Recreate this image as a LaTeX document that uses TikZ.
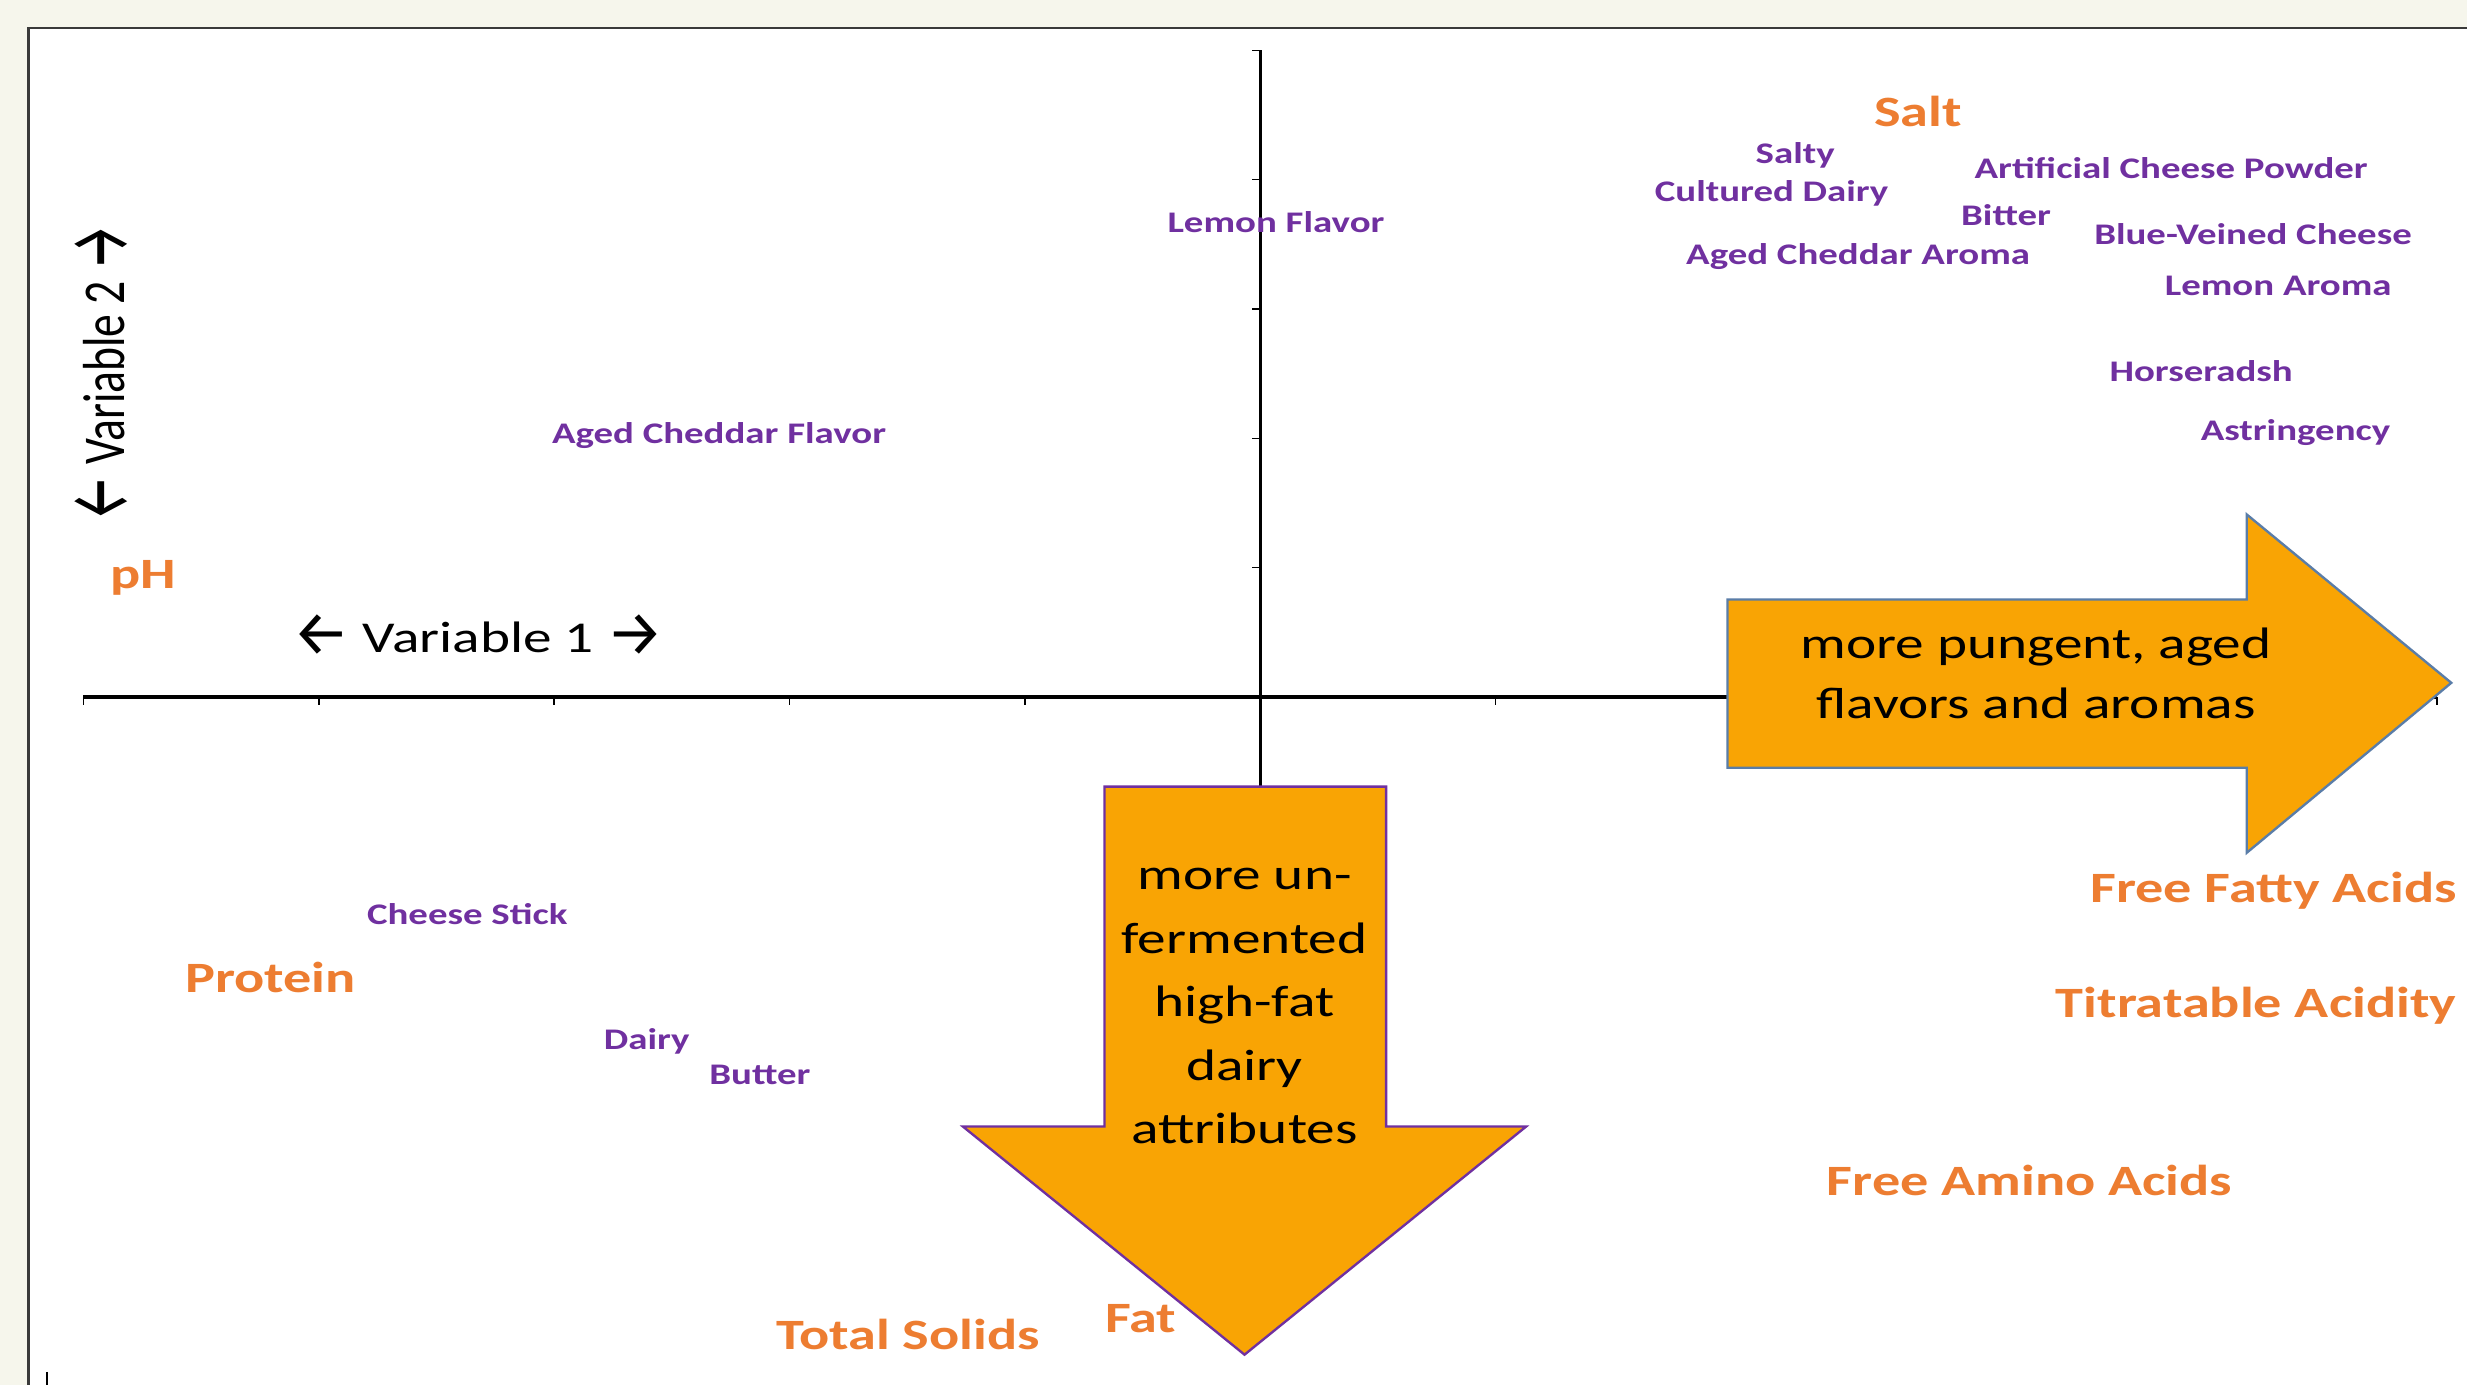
\documentclass[tikz,border=0pt]{standalone}
\usepackage{fontspec}
\setmainfont{Carlito}
\newfontfamily\arrowfont{Fira Sans}
\definecolor{lblpurple}{HTML}{7030A0}
\definecolor{lblorange}{HTML}{ED7D31}
\definecolor{arrfill}{HTML}{F9A404}
\definecolor{arrblue}{HTML}{5A7DA8}
\definecolor{framecol}{HTML}{3A3A3A}
\definecolor{bgcol}{HTML}{F6F6EC}
\newcommand\wide[1]{\scalebox{1.3}[1]{#1}}
\newcommand\tall[1]{\scalebox{1}[1.3]{#1}}
\newcommand\larr{\raisebox{-0.08em}{\scalebox{1.12}[1.45]{\arrowfont ←}}}
\newcommand\rarr{\raisebox{-0.08em}{\scalebox{1.12}[1.45]{\arrowfont →}}}
\begin{document}
\begin{tikzpicture}[x=1pt,y=-1pt,
  purp/.style={text=lblpurple,font=\fontsize{19}{22}\selectfont\bfseries,inner sep=0pt},
  oran/.style={text=lblorange,font=\fontsize{27.5}{32}\selectfont\bfseries,inner sep=0pt},
  axlabel/.style={text=black,font=\fontsize{28}{32}\selectfont,inner sep=0pt},
  arrtext/.style={text=black,align=center,inner sep=0pt},
  axisline/.style={black,line width=2pt},
  tickline/.style={black,line width=1pt},
  downarr/.style={fill=arrfill,draw=lblpurple,line width=1.5pt,line join=miter},
  rightarr/.style={fill=arrfill,draw=arrblue,line width=1.5pt,line join=miter}]
\useasboundingbox (0,0) rectangle (1568,880);
\fill[bgcol] (0,0) rectangle (1568,880);
\fill[white] (18,18) rectangle (1568,880);
\draw[framecol,line width=1.5pt] (18,880) -- (18,18) -- (1568,18);
\draw[tickline] (30,872) -- (30,880);
% axes
\coordinate (xl) at (53,443);
\coordinate (xr) at (1549,443);
\coordinate (yt) at (801,32);
\coordinate (yb) at (801,500);
\draw[axisline] (xl) -- (xr);
\draw[axisline] (yt) -- (yb);
\foreach \i in {0,...,10} \draw[tickline] ({53+149.6*\i},443) -- ++(0,5);
\foreach \j in {0,...,5} \draw[tickline] (801,{32+82.2*\j}) -- ++(-5,0);
% arrows
\draw[downarr] (702,500) -- (881,500) -- (881,716) -- (970,716) -- (791,861) -- (612,716) -- (702,716) -- cycle;
\draw[rightarr] (1098,381) -- (1428,381) -- (1428,327) -- (1558,434) -- (1428,542) -- (1428,488) -- (1098,488) -- cycle;
\node[arrtext,font=\fontsize{28}{40.3}\selectfont] (downtxt) at (791,639.5) {\wide{more un-}\\\wide{fermented}\\\wide{high-fat}\\\wide{dairy}\\\wide{attributes}};
\node[arrtext,font=\fontsize{28}{38}\selectfont] (righttxt) at (1294,428) {\wide{more pungent, aged}\\\wide{flavors and aromas}};
% axis labels
\node[axlabel] (var1) at (304,404) {\wide{\larr{} Variable 1 \rarr}};
\node[axlabel,rotate=90,font=\fontsize{29}{32}\selectfont] (var2) at (65,237) {\tall{\larr{} Variable 2 \rarr}};
% orange labels
\node[oran] (salt) at (1219,71) {\wide{Salt}};
\node[oran] (ph) at (91,367) {\wide{pH}};
\node[oran] (protein) at (172,621) {\wide{Protein}};
\node[oran] (solids) at (577,848) {\wide{Total Solids}};
\node[oran] (fat) at (725,838) {\wide{Fat}};
\node[oran] (ffa) at (1445,566) {\wide{Free Fatty Acids}};
\node[oran] (ta) at (1434,639) {\wide{Titratable Acidity}};
\node[oran] (faa) at (1290,750) {\wide{Free Amino Acids}};
% purple labels
\node[purp] (lemflav) at (811,141) {\wide{Lemon Flavor}};
\node[purp] (acflav) at (457,277) {\wide{Aged Cheddar Flavor}};
\node[purp] (salty) at (1141,99) {\wide{Salty}};
\node[purp] (cultured) at (1126,123) {\wide{Cultured Dairy}};
\node[purp] (artif) at (1380,107) {\wide{Artificial Cheese Powder}};
\node[purp] (bitter) at (1275,137) {\wide{Bitter}};
\node[purp] (blue) at (1432,149) {\wide{Blue-Veined Cheese}};
\node[purp] (acaroma) at (1181,163) {\wide{Aged Cheddar Aroma}};
\node[purp] (lemaroma) at (1448,182) {\wide{Lemon Aroma}};
\node[purp] (horse) at (1399,236) {\wide{Horseradsh}};
\node[purp] (astr) at (1459,275) {\wide{Astringency}};
\node[purp] (stick) at (297,581) {\wide{Cheese Stick}};
\node[purp] (dairy) at (411,662) {\wide{Dairy}};
\node[purp] (butter) at (483,683) {\wide{Butter}};
\end{tikzpicture}
\end{document}
